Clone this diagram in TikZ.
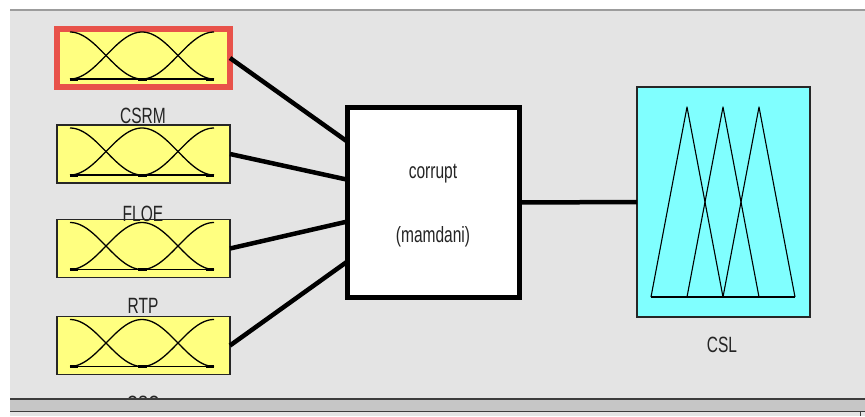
\documentclass[tikz,border=0pt]{standalone}
\usepackage{fontspec}
\usepackage{graphicx}
\setmainfont{Liberation Sans}
\usetikzlibrary{calc}

\definecolor{panelbg}{HTML}{E4E4E4}
\definecolor{panelrule}{HTML}{9C9C9C}
\definecolor{barfill}{HTML}{C6C6C6}
\definecolor{bardark}{HTML}{3C3C3C}
\definecolor{mfyellow}{HTML}{FFFF80}
\definecolor{outcyan}{HTML}{80FFFF}
\definecolor{selred}{HTML}{E8524A}
\definecolor{labelgray}{HTML}{242424}

% tall, narrow lettering of the editor window
\newcommand{\tallt}[1]{\scalebox{0.97}[1.38]{#1}}

% three smooth membership curves inside an input box
\newcommand{\bellset}[1]{%
  \begin{scope}[shift={(#1.north west)}, mfline]
    \draw[line width=1.5pt] (13,50) -- (157,50);
    \draw plot[domain=13:85, samples=40] (\x,{50-23.5*(1+cos(2.5*(\x-13)))});
    \draw plot[domain=13:157, samples=70] (\x,{50-23.5*(1+cos(2.5*(\x-85)))});
    \draw plot[domain=85:157, samples=40] (\x,{50-23.5*(1+cos(2.5*(\x-157)))});
    \fill (13,48.5) rectangle (21,51.5);
    \fill (81,48.5) rectangle (90,51.5);
    \fill (149,48.5) rectangle (157,51.5);
  \end{scope}}

\begin{document}
\begin{tikzpicture}[x=1pt, y=-1pt,
  inbox/.style={draw=black!85, line width=1.3pt, fill=mfyellow,
    minimum width=173pt, minimum height=58pt, inner sep=0pt, outer sep=0pt},
  selbox/.style={inbox, draw=selred, line width=6pt},
  sysbox/.style={draw=black, line width=5pt, fill=white,
    minimum width=172pt, minimum height=190pt, inner sep=0pt, outer sep=0pt},
  outbox/.style={draw=black!85, line width=1.5pt, fill=outcyan,
    minimum width=173pt, minimum height=230pt, inner sep=0pt, outer sep=0pt},
  mfline/.style={draw=black, line width=1.3pt, line join=round},
  link/.style={draw=black, line width=4.5pt},
  lbl/.style={text=labelgray, font=\fontsize{16}{18}\selectfont, inner sep=0pt}]

\useasboundingbox (0,0) rectangle (865,416);

% window panel
\fill[white] (0,0) rectangle (865,416);
\fill[panelbg] (10,10) rectangle (865,399);
\draw[panelrule, line width=1.5pt] (10,10) -- (865,10);

% input variables
\node[selbox] (csrm) at (143.5,58) {};
\node[inbox]  (floe) at (143.5,154) {};
\node[inbox]  (rtp)  at (143.5,248.5) {};
\node[inbox]  (csc)  at (143.5,345.5) {};
\bellset{csrm}
\bellset{floe}
\bellset{rtp}
\bellset{csc}

\node[lbl] (csrmlbl) at (143,116) {\tallt{CSRM}};
\node[lbl] (floelbl) at (143,214) {\tallt{FLOE}};
\node[lbl] (rtplbl)  at (143,305.5) {\tallt{RTP}};
\node[lbl] (csclbl)  at (143,404) {\tallt{CSC}};

% inference system
\node[sysbox] (sys) at (433.5,202.5) {};
\node[lbl] (systitle) at (433,174) {\tallt{corrupt}};
\node[lbl] (systype)  at (433,237) {\tallt{(mamdani)}};

% output variable
\node[outbox] (csl) at (723.5,202) {};
\begin{scope}[shift={(csl.north west)}, mfline, line width=1.1pt]
  \draw (14,210) -- (158,210);
  \draw (14,210) -- (50,20) -- (86,210);
  \draw (50,210) -- (86,20) -- (122,210);
  \draw (86,210) -- (122,20) -- (158,210);
\end{scope}
\node[lbl] (csllbl) at (722,345) {\tallt{CSL}};

% connections
\coordinate (in1) at ($(sys.north west)!0.18!(sys.south west)$);
\coordinate (in2) at ($(sys.north west)!0.38!(sys.south west)$);
\coordinate (in3) at ($(sys.north west)!0.60!(sys.south west)$);
\coordinate (in4) at ($(sys.north west)!0.81!(sys.south west)$);
\draw[link] (csrm.east) -- (in1);
\draw[link] (floe.east) -- (in2);
\draw[link] (rtp.east) -- (in3);
\draw[link] (csc.east) -- (in4);
\draw[link] (sys.east) -- (csl.west);

% status bar along the bottom
\fill[barfill] (10,399) rectangle (865,411.5);
\draw[bardark, line width=1.2pt] (10,399) -- (865,399);
\draw[bardark, line width=1.2pt] (10,411.5) -- (865,411.5);
\fill[panelbg!95!white] (10,412.1) rectangle (865,416);
\draw[bardark, line width=1pt] (860,412) -- (860,416);
\end{tikzpicture}
\end{document}
